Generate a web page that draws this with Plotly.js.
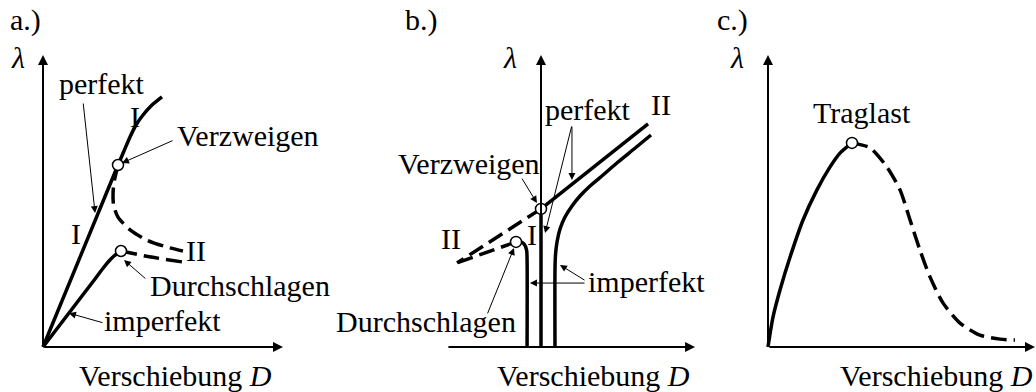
<!DOCTYPE html>
<html>
<head>
<meta charset="utf-8">
<script src="https://cdn.plot.ly/plotly-3.0.1.min.js"></script>
<style>html,body{margin:0;padding:0;background:#fff}</style>
</head>
<body>
<div id="chart" style="width:1036px;height:392px"></div>
<script>
// ---- a.) bifurcation (Verzweigen) and snap-through (Durchschlagen) ----
const aPerfectD   = [0, 3.125, 3.375, 3.625, 3.875, 4.167, 4.5, 4.958];
const aPerfectL   = [0, 6.233, 6.712, 7.192, 7.603, 7.945, 8.253, 8.562];
const aBranchD    = [3.125, 2.98, 2.92, 2.94, 3.125, 3.63, 4.33, 5.17, 5.83];
const aBranchL    = [6.233, 5.72, 5.31, 4.86, 4.45, 4.01, 3.66, 3.42, 3.29];
const aImperfD    = [0, 1.083, 2.167, 2.542, 2.75, 2.958, 3.125, 3.25];
const aImperfL    = [0, 1.164, 2.329, 2.740, 2.945, 3.116, 3.219, 3.288];
const aSnapD      = [3.25, 4.5, 5.83];
const aSnapL      = [3.288, 3.08, 2.91];
const aPointsD    = [3.125, 3.25];
const aPointsL    = [6.233, 3.288];

// ---- b.) symmetric bifurcation ----
const bPrimaryD   = [0, 0];
const bPrimaryL   = [0, 4.73];
const bSecUpD     = [0, 4.46];
const bSecUpL     = [4.73, 7.64];
const bSecDownD   = [0, -3.5];
const bSecDownL   = [4.73, 2.88];
const bImpRightD  = [0.583, 0.583, 0.604, 0.667, 0.792, 1.0, 1.292, 1.625, 2.042, 2.583, 3.208, 3.875, 4.583];
const bImpRightL  = [0, 2.637, 3.151, 3.596, 4.041, 4.452, 4.829, 5.171, 5.514, 5.890, 6.336, 6.781, 7.260];
const bImpLeftD   = [-0.58, -0.58, -0.60, -0.71, -0.875, -1.04];
const bImpLeftL   = [0, 2.98, 3.32, 3.53, 3.61, 3.60];
const bImpPostD   = [-1.04, -3.5];
const bImpPostL   = [3.60, 2.88];
const bPointsD    = [0, -1.04];
const bPointsL    = [4.73, 3.60];

// ---- c.) limit load (Traglast) ----
const cRiseD      = [0, 0.21, 0.5, 0.92, 1.46, 2.04, 2.58, 3.0, 3.5];
const cRiseL      = [0, 1.03, 1.95, 3.08, 4.35, 5.38, 6.16, 6.64, 6.99];
const cFallD      = [3.5, 4.25, 4.96, 5.5, 5.92, 6.33, 6.75, 7.29, 8.0, 8.83, 9.67, 10.29];
const cFallL      = [6.99, 6.82, 6.16, 5.38, 4.35, 3.32, 2.40, 1.51, 0.82, 0.41, 0.27, 0.24];
const cPointD     = [3.5];
const cPointL     = [6.99];

// ---- text ----
const panelTags   = ['a.)', 'b.)', 'c.)'];
const loadSymbol  = '<i>λ</i>';
const dispTitle   = 'Verschiebung <i>D</i>';

// ---- geometry of the three panels (pixels) ----
const W = 1036, H = 392;
const PX_PER_D = 24, PX_PER_L = 29.2, ORIGIN_Y = 347;
const panels = [
  {x0: 0,   x1: 360,  ox: 43},
  {x0: 360, x1: 720,  ox: 541},
  {x0: 720, x1: 1036, ox: 768}
];

const BLACK = '#000';
const SOLID = 3.5;
const DASH = '16px,7px';

function ref(ax) { return ax === 1 ? '' : String(ax); }

function curve(ax, D, L, dash) {
  return {
    type: 'scatter', mode: 'lines', x: D, y: L,
    xaxis: 'x' + ref(ax), yaxis: 'y' + ref(ax),
    line: {color: BLACK, width: SOLID, dash: dash || 'solid', shape: 'spline', smoothing: 0.7},
    cliponaxis: false, hoverinfo: 'skip'
  };
}
function nodes(ax, D, L) {
  return {
    type: 'scatter', mode: 'markers', x: D, y: L,
    xaxis: 'x' + ref(ax), yaxis: 'y' + ref(ax),
    marker: {size: 11, color: '#fff', line: {color: BLACK, width: 1.5}},
    cliponaxis: false, hoverinfo: 'skip'
  };
}

const traces = [
  curve(1, aPerfectD, aPerfectL),
  curve(1, aBranchD, aBranchL, DASH),
  curve(1, aImperfD, aImperfL),
  curve(1, aSnapD, aSnapL, DASH),
  nodes(1, aPointsD, aPointsL),

  curve(2, bPrimaryD, bPrimaryL),
  curve(2, bSecUpD, bSecUpL),
  curve(2, bSecDownD, bSecDownL, DASH),
  curve(2, bImpRightD, bImpRightL),
  curve(2, bImpLeftD, bImpLeftL),
  curve(2, bImpPostD, bImpPostL, DASH),
  nodes(2, bPointsD, bPointsL),

  curve(3, cRiseD, cRiseL),
  curve(3, cFallD, cFallL, DASH),
  nodes(3, cPointD, cPointL)
];

const font = {family: 'Liberation Serif, Times New Roman, serif', size: 30, color: BLACK};

function label(ax, x, y, text) {
  return {xref: 'x' + ref(ax), yref: 'y' + ref(ax), x: x, y: y, text: text,
          showarrow: false, font: font, borderpad: 0,
          xanchor: 'center', yanchor: 'middle'};
}
function pointer(ax, tail, tip, heavy) {
  return {xref: 'x' + ref(ax), yref: 'y' + ref(ax), axref: 'x' + ref(ax), ayref: 'y' + ref(ax),
          x: tip[0], y: tip[1], ax: tail[0], ay: tail[1], text: '',
          showarrow: true, arrowhead: 2, arrowcolor: BLACK,
          arrowwidth: heavy ? 2 : 1, arrowsize: heavy ? 1 : 1.4};
}

const annotations = [
  // axes
  pointer(1, [0, 0], [0, 10], true),
  pointer(1, [0, 0], [10, 0], true),
  pointer(2, [0, 0], [0, 10], true),
  pointer(2, [-3.92, 0], [6.42, 0], true),
  pointer(3, [0, 0], [0, 10], true),
  pointer(3, [0, 0], [11.125, 0], true),

  // a.)
  label(1, -0.75, 11.2, panelTags[0]),
  label(1, -1.04, 9.93, loadSymbol),
  label(1, 2.46, 9.04, 'perfekt'),
  label(1, 3.83, 7.88, 'I'),
  label(1, 8.54, 7.26, 'Verzweigen'),
  label(1, 1.375, 3.90, 'I'),
  label(1, 6.375, 3.29, 'II'),
  label(1, 8.21, 2.12, 'Durchschlagen'),
  label(1, 4.96, 0.92, 'imperfekt'),
  label(1, 5.54, -0.96, dispTitle),
  pointer(1, [1.67, 8.39], [2.17, 4.59]),
  pointer(1, [5.46, 7.09], [3.29, 6.30]),
  pointer(1, [4.33, 2.30], [3.375, 2.98]),
  pointer(1, [2.54, 0.82], [1.08, 1.16]),

  // b.)
  label(2, -5.0, 11.2, panelTags[1]),
  label(2, -1.29, 9.93, loadSymbol),
  label(2, 1.96, 8.15, 'perfekt'),
  label(2, 5.0, 8.29, 'II'),
  label(2, -3.0, 6.30, 'Verzweigen'),
  label(2, -3.75, 3.73, 'II'),
  label(2, -0.375, 3.87, 'I'),
  label(2, 4.375, 2.23, 'imperfekt'),
  label(2, -4.79, 0.86, 'Durchschlagen'),
  label(2, 2.17, -0.96, dispTitle),
  pointer(2, [-0.83, 5.82], [-0.17, 4.93]),
  pointer(2, [1.29, 7.60], [1.29, 5.72]),
  pointer(2, [1.29, 7.60], [0.17, 3.90]),
  pointer(2, [1.875, 2.19], [-0.46, 2.19]),
  pointer(2, [1.875, 2.26], [0.79, 2.81]),
  pointer(2, [-2.25, 1.10], [-1.125, 3.39]),

  // c.)
  label(3, -1.5, 11.2, panelTags[2]),
  label(3, -1.29, 9.93, loadSymbol),
  label(3, 3.92, 8.02, 'Traglast'),
  label(3, 7.0, -0.96, dispTitle)
];

const layout = {
  width: W, height: H,
  margin: {l: 0, r: 0, t: 0, b: 0, pad: 0},
  paper_bgcolor: '#fff', plot_bgcolor: 'rgba(0,0,0,0)',
  showlegend: false, hovermode: false,
  annotations: annotations
};

panels.forEach(function (p, i) {
  const suffix = i === 0 ? '' : String(i + 1);
  layout['xaxis' + suffix] = {
    domain: [p.x0 / W, p.x1 / W],
    range: [(p.x0 - p.ox) / PX_PER_D, (p.x1 - p.ox) / PX_PER_D],
    visible: false, fixedrange: true,
    anchor: 'y' + suffix
  };
  layout['yaxis' + suffix] = {
    domain: [0, 1],
    range: [(ORIGIN_Y - H) / PX_PER_L, ORIGIN_Y / PX_PER_L],
    visible: false, fixedrange: true,
    anchor: 'x' + suffix
  };
});

Plotly.newPlot('chart', traces, layout, {staticPlot: true, displayModeBar: false});
</script>
</body>
</html>
